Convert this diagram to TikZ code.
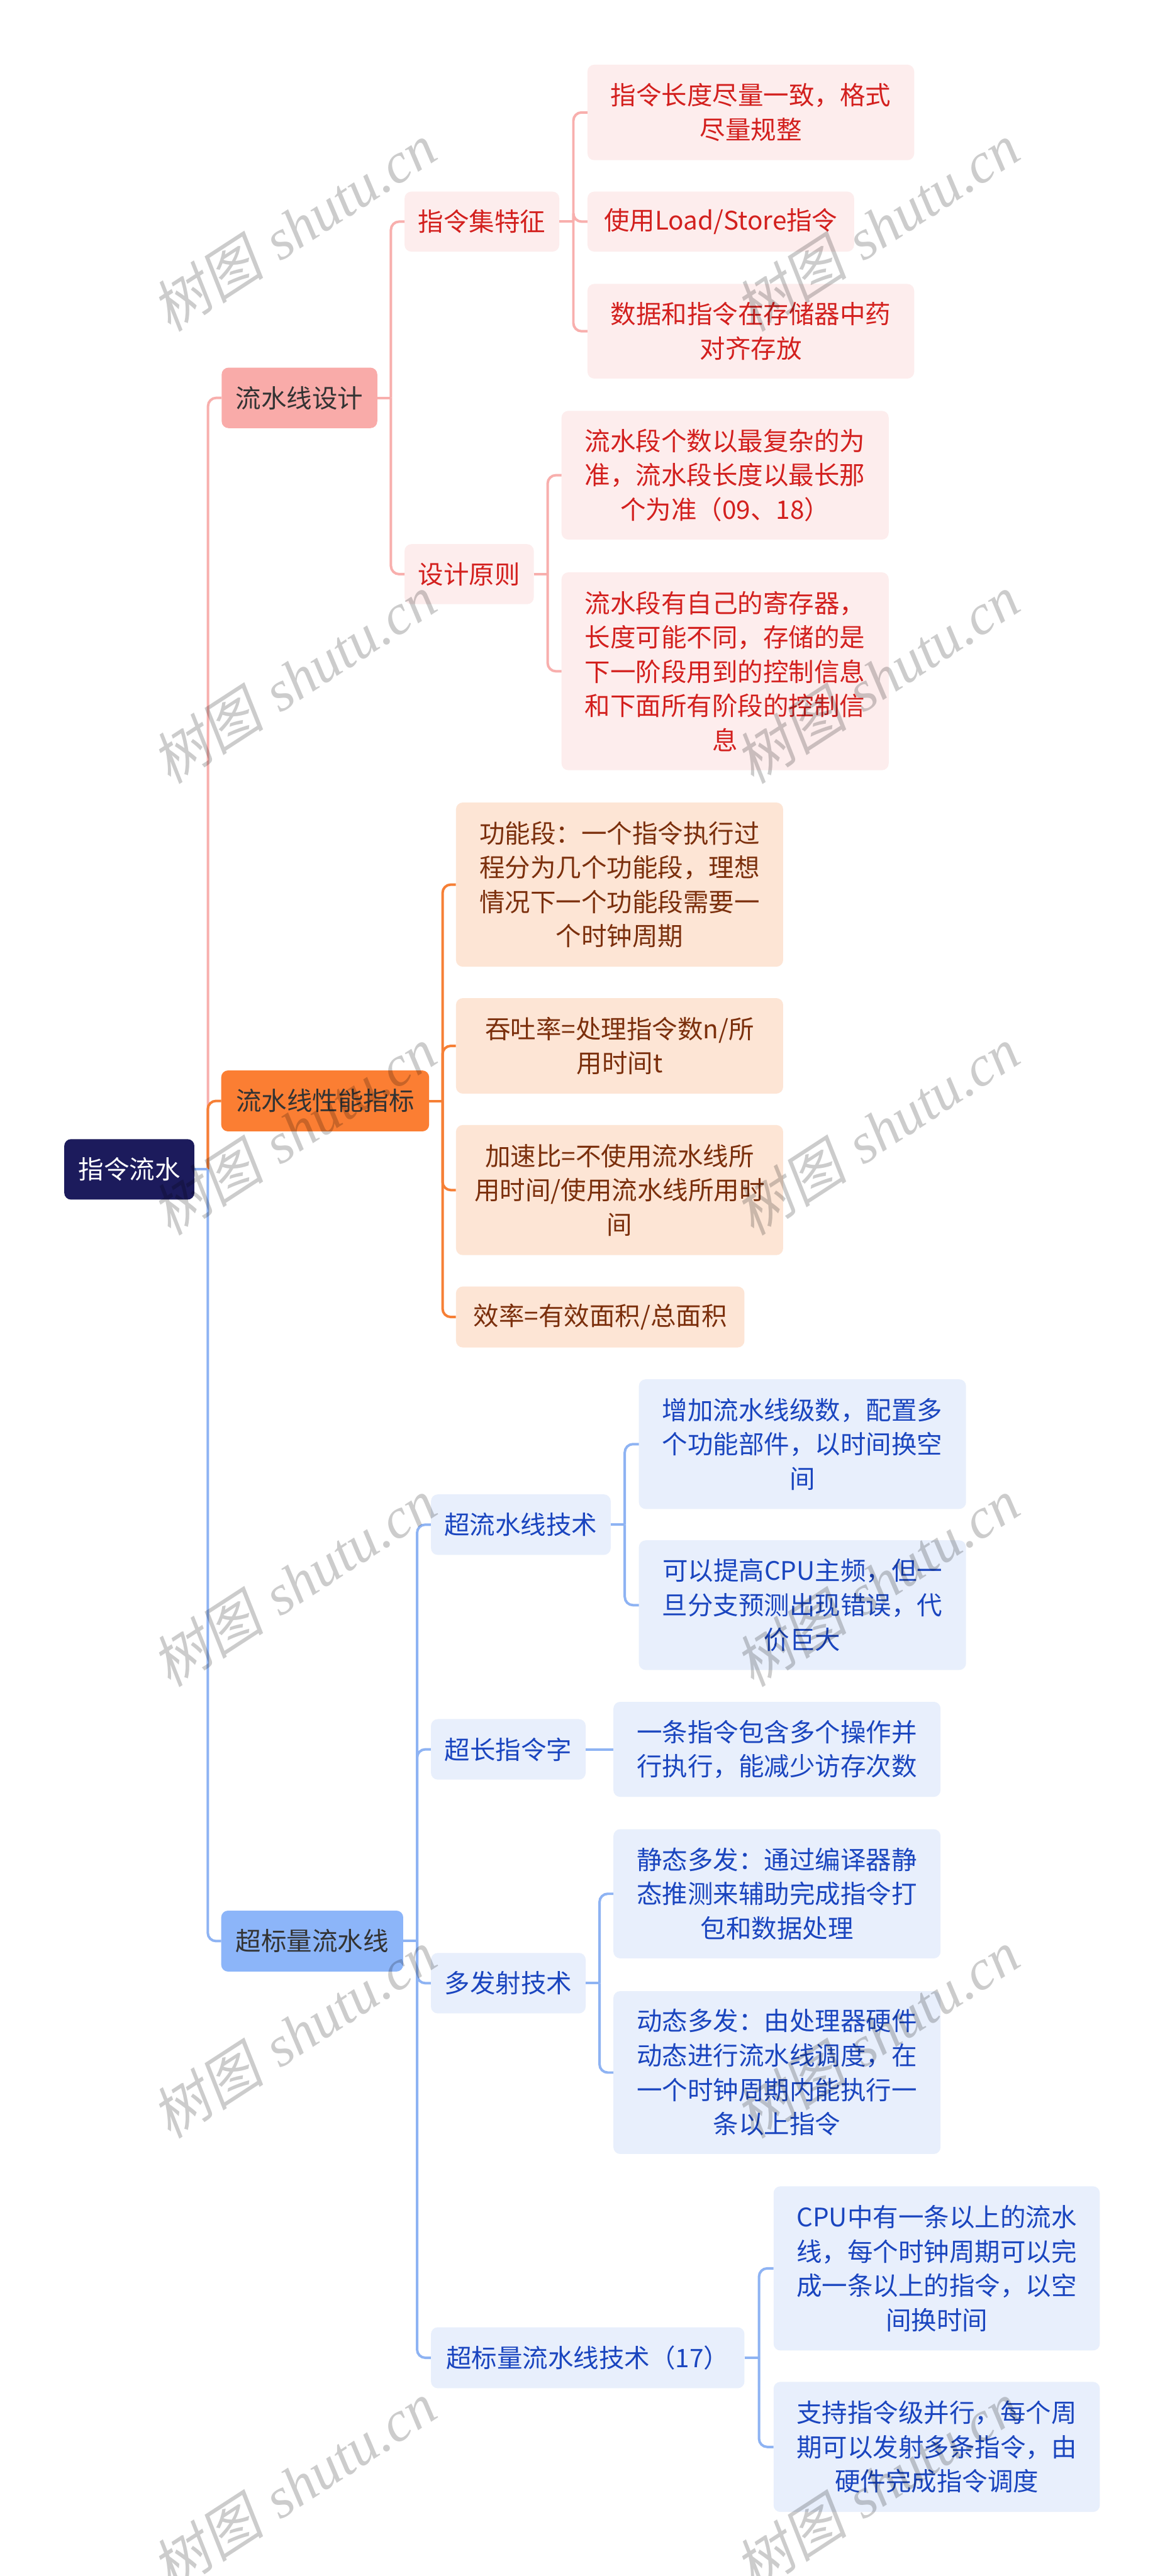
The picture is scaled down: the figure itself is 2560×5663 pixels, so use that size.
\documentclass[tikz,border=0pt]{standalone}
\usepackage{fontspec}
\newfontfamily\cjk{Noto Sans CJK SC}
\newfontfamily\wmcjk[FakeSlant=0.2]{Noto Sans CJK SC}
\newfontfamily\wmlat{Liberation Serif}
\usetikzlibrary{calc}
\definecolor{rootc}{HTML}{1C1B5C}
\definecolor{maintext}{HTML}{333333}
\definecolor{pinkmain}{HTML}{F9ABA9}
\definecolor{pinkline}{HTML}{F8AFAD}
\definecolor{pinkleaf}{HTML}{FDEDED}
\definecolor{pinktext}{HTML}{D3201E}
\definecolor{orangemain}{HTML}{FB7E33}
\definecolor{orangeline}{HTML}{F67F35}
\definecolor{orangeleaf}{HTML}{FDE5D5}
\definecolor{orangetext}{HTML}{7B2F0C}
\definecolor{bluemain}{HTML}{8CB5F9}
\definecolor{blueline}{HTML}{8EB3F3}
\definecolor{blueleaf}{HTML}{E8EFFC}
\definecolor{bluetext}{HTML}{1A45BF}
\tikzset{
  base/.style={rounded corners=15pt, inner sep=0pt, anchor=north west, align=center,
    font=\cjk\fontsize{56}{75.5}\selectfont},
  rootbox/.style={base, fill=rootc, text=white},
  pinkbig/.style={base, fill=pinkmain, text=maintext},
  pinkbox/.style={base, fill=pinkleaf, text=pinktext},
  orangebig/.style={base, fill=orangemain, text=maintext},
  orangebox/.style={base, fill=orangeleaf, text=orangetext},
  bluebig/.style={base, fill=bluemain, text=maintext},
  bluebox/.style={base, fill=blueleaf, text=bluetext},
  pinkconn/.style={draw=pinkline, line width=5.5pt},
  orangeconn/.style={draw=orangeline, line width=5.5pt},
  blueconn/.style={draw=blueline, line width=5.5pt},
  wm/.style={text=black, opacity=0.2, inner sep=0pt, font=\fontsize{125}{135}\selectfont},
}
\newcommand\mmlink[3]{%
  \path ($(#2.east)!0.5!(#3.west)$) coordinate (mmmid);
  \draw[#1] (#2.east) -- (#2.east -| mmmid);
  \draw[#1, rounded corners=18pt] (#2.east -| mmmid) |- (#3.west);
}
\begin{document}
\begin{tikzpicture}[x=1pt,y=-1pt]
\fill[white] (0,0) rectangle (2560,5663);
\useasboundingbox (0,0) rectangle (2560,5663);

% root and main branches
\node[rootbox, minimum width=286pt, minimum height=133pt] (root) at (141,2504) {指令流水};
\node[pinkbig, minimum width=342pt, minimum height=133pt] (design) at (487,808) {流水线设计};
\node[orangebig, minimum width=457pt, minimum height=134pt] (perf) at (486,2353) {流水线性能指标};
\node[bluebig, minimum width=400pt, minimum height=134pt] (super) at (486,4200) {超标量流水线};

% design branch
\node[pinkbox, minimum width=340pt, minimum height=132pt] (isa) at (889,421) {指令集特征};
\node[pinkbox, minimum width=284pt, minimum height=132pt] (principle) at (889,1196) {设计原则};
\node[pinkbox, minimum width=718pt, minimum height=210pt] (isa1) at (1291,142) {指令长度尽量一致，格式\\尽量规整};
\node[pinkbox, minimum width=586pt, minimum height=132pt] (isa2) at (1291,421) {使用Load/Store指令};
\node[pinkbox, minimum width=718pt, minimum height=208pt] (isa3) at (1291,624) {数据和指令在存储器中药\\对齐存放};
\node[pinkbox, minimum width=719pt, minimum height=283pt] (pr1) at (1234,903) {流水段个数以最复杂的为\\准，流水段长度以最长那\\个为准（09、18）};
\node[pinkbox, minimum width=719pt, minimum height=435pt] (pr2) at (1234,1258) {流水段有自己的寄存器，\\长度可能不同，存储的是\\下一阶段用到的控制信息\\和下面所有阶段的控制信\\息};

% performance branch
\node[orangebox, minimum width=719pt, minimum height=361pt] (pf1) at (1002,1764) {功能段：一个指令执行过\\程分为几个功能段，理想\\情况下一个功能段需要一\\个时钟周期};
\node[orangebox, minimum width=719pt, minimum height=210pt] (pf2) at (1002,2194) {吞吐率=处理指令数n/所\\用时间t};
\node[orangebox, minimum width=719pt, minimum height=286pt] (pf3) at (1002,2473) {加速比=不使用流水线所\\用时间/使用流水线所用时\\间};
\node[orangebox, minimum width=634pt, minimum height=134pt] (pf4) at (1002,2828) {效率=有效面积/总面积};

% superscalar branch
\node[bluebox, minimum width=395pt, minimum height=133pt] (sp) at (947,3285) {超流水线技术};
\node[bluebox, minimum width=340pt, minimum height=133pt] (vliw) at (947,3779) {超长指令字};
\node[bluebox, minimum width=340pt, minimum height=133pt] (multi) at (947,4293) {多发射技术};
\node[bluebox, minimum width=689pt, minimum height=134pt] (ss) at (947,5116) {超标量流水线技术（17）};
\node[bluebox, minimum width=719pt, minimum height=285pt] (sp1) at (1404,3032) {增加流水线级数，配置多\\个功能部件，以时间换空\\间};
\node[bluebox, minimum width=719pt, minimum height=285pt] (sp2) at (1404,3386) {可以提高CPU主频，但一\\旦分支预测出现错误，代\\价巨大};
\node[bluebox, minimum width=719pt, minimum height=209pt] (vl1) at (1348,3741) {一条指令包含多个操作并\\行执行，能减少访存次数};
\node[bluebox, minimum width=719pt, minimum height=284pt] (mu1) at (1348,4021) {静态多发：通过编译器静\\态推测来辅助完成指令打\\包和数据处理};
\node[bluebox, minimum width=719pt, minimum height=358pt] (mu2) at (1348,4377) {动态多发：由处理器硬件\\动态进行流水线调度，在\\一个时钟周期内能执行一\\条以上指令};
\node[bluebox, minimum width=717pt, minimum height=361pt] (ss1) at (1700,4806) {CPU中有一条以上的流水\\线，每个时钟周期可以完\\成一条以上的指令，以空\\间换时间};
\node[bluebox, minimum width=717pt, minimum height=286pt] (ss2) at (1700,5236) {支持指令级并行，每个周\\期可以发射多条指令，由\\硬件完成指令调度};

% connectors
\mmlink{pinkconn}{root}{design}
\mmlink{orangeconn}{root}{perf}
\mmlink{blueconn}{root}{super}

\mmlink{pinkconn}{design}{isa}
\mmlink{pinkconn}{design}{principle}
\mmlink{pinkconn}{isa}{isa1}
\mmlink{pinkconn}{isa}{isa2}
\mmlink{pinkconn}{isa}{isa3}
\mmlink{pinkconn}{principle}{pr1}
\mmlink{pinkconn}{principle}{pr2}

\mmlink{orangeconn}{perf}{pf1}
\mmlink{orangeconn}{perf}{pf2}
\mmlink{orangeconn}{perf}{pf3}
\mmlink{orangeconn}{perf}{pf4}

\mmlink{blueconn}{super}{sp}
\mmlink{blueconn}{super}{vliw}
\mmlink{blueconn}{super}{multi}
\mmlink{blueconn}{super}{ss}
\mmlink{blueconn}{sp}{sp1}
\mmlink{blueconn}{sp}{sp2}
\draw[blueconn] (vliw.east) -- (vl1.west);
\mmlink{blueconn}{multi}{mu1}
\mmlink{blueconn}{multi}{mu2}
\mmlink{blueconn}{ss}{ss1}
\mmlink{blueconn}{ss}{ss2}

% watermarks
\foreach \wy [count=\i] in {500,1493,2486,3479,4472,5465}{
  \node[wm, rotate=33] (wmL\i) at (645,\wy) {{\wmcjk 树图} {\wmlat\itshape shutu.cn}};
  \node[wm, rotate=33] (wmR\i) at (1927,\wy) {{\wmcjk 树图} {\wmlat\itshape shutu.cn}};
}
\end{tikzpicture}
\end{document}
